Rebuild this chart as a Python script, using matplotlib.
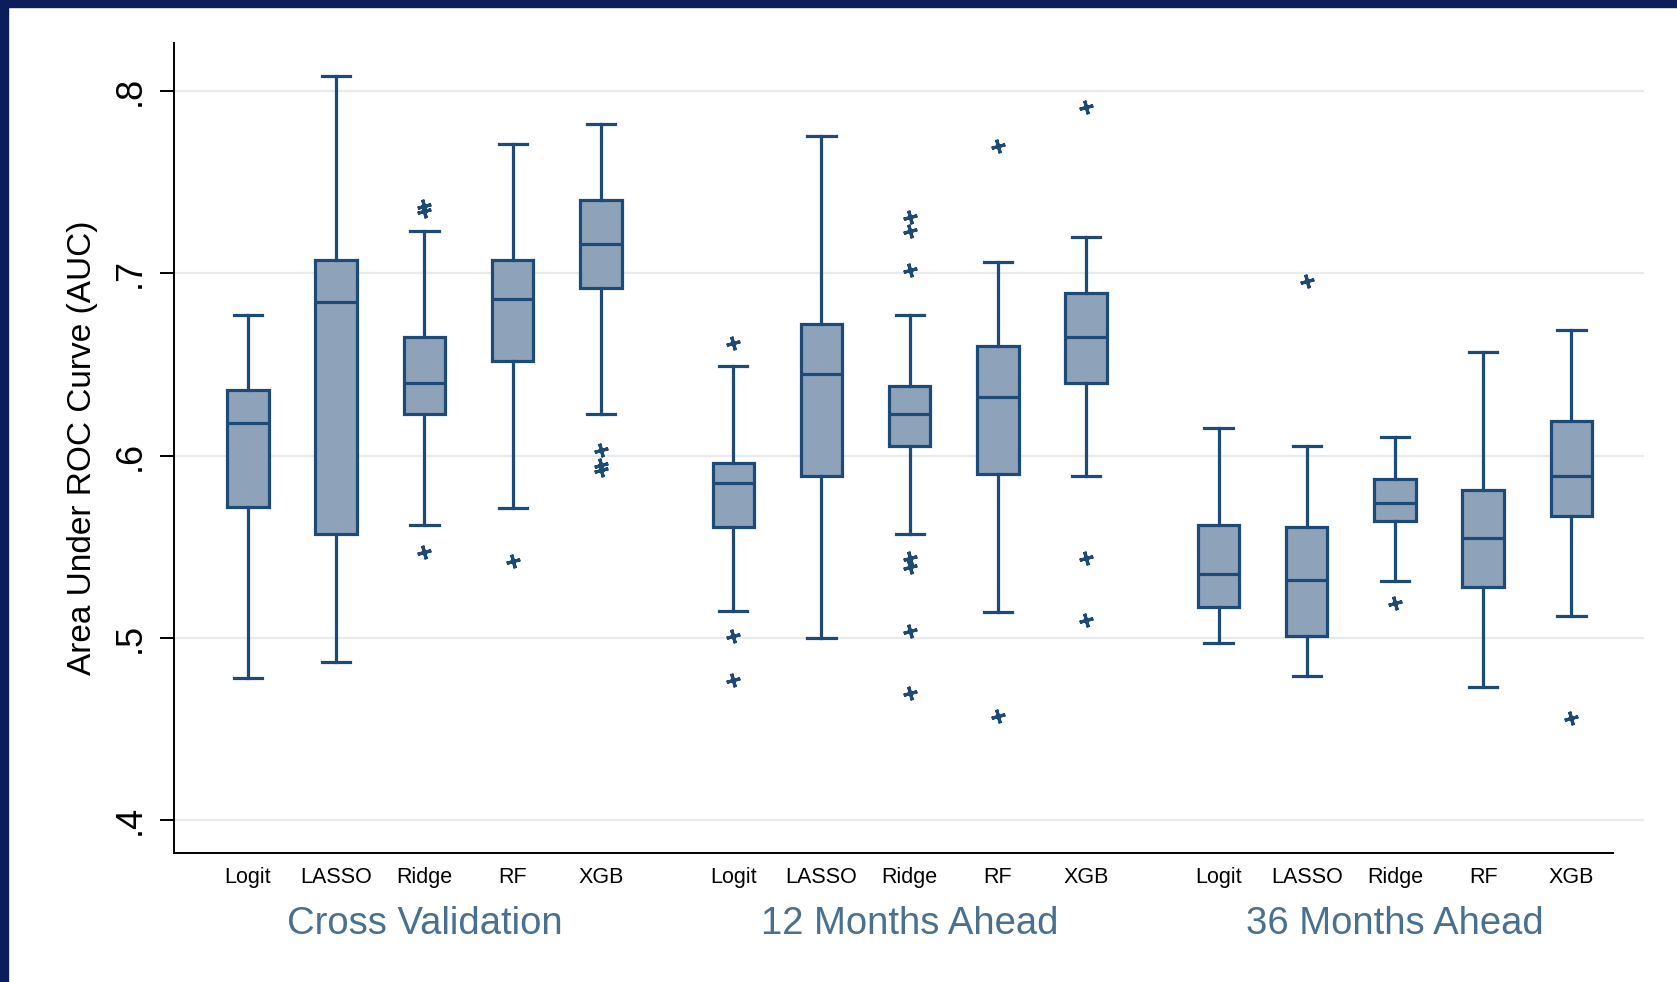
import numpy as np
import matplotlib
matplotlib.use("Agg")
from matplotlib import pyplot as plt
from matplotlib.patches import Rectangle

plt.rcParams['font.family'] = ['Liberation Sans', 'DejaVu Sans']

# AUC box summaries per model, three evaluation windows
models = ["Logit", "LASSO", "Ridge", "RF", "XGB"]
groups = ["Cross Validation", "12 Months Ahead", "36 Months Ahead"]

whislo = [0.478, 0.487, 0.562, 0.571, 0.623,
          0.515, 0.500, 0.557, 0.514, 0.589,
          0.497, 0.479, 0.531, 0.473, 0.512]
q1 = [0.572, 0.557, 0.623, 0.652, 0.692,
      0.561, 0.589, 0.605, 0.590, 0.640,
      0.517, 0.501, 0.564, 0.528, 0.567]
med = [0.618, 0.684, 0.640, 0.686, 0.716,
       0.585, 0.645, 0.623, 0.632, 0.665,
       0.535, 0.532, 0.574, 0.555, 0.589]
q3 = [0.636, 0.707, 0.665, 0.707, 0.740,
      0.596, 0.672, 0.638, 0.660, 0.689,
      0.562, 0.561, 0.587, 0.581, 0.619]
whishi = [0.677, 0.808, 0.723, 0.771, 0.782,
          0.649, 0.775, 0.677, 0.706, 0.720,
          0.615, 0.605, 0.610, 0.657, 0.669]
outliers = [[], [], [0.737, 0.734, 0.547], [0.542], [0.603, 0.595, 0.592],
            [0.662, 0.501, 0.477], [], [0.731, 0.723, 0.702, 0.544, 0.539, 0.504, 0.470],
            [0.770, 0.457], [0.791, 0.544, 0.510],
            [], [0.696], [0.519], [], [0.456]]

yticks = [0.4, 0.5, 0.6, 0.7, 0.8]
yticklabels = [".4", ".5", ".6", ".7", ".8"]

# five boxes per group, half a slot of extra gap between groups
positions = [g * 5.5 + i for g in range(len(groups)) for i in range(len(models))]

edge = "#1d4a76"
fill = "#8ea3ba"

stats = []
for k in range(len(positions)):
    stats.append(dict(med=med[k], q1=q1[k], q3=q3[k],
                      whislo=whislo[k], whishi=whishi[k],
                      fliers=np.array(outliers[k])))

fig = plt.figure(figsize=(16.77, 9.82), dpi=100)
ax = fig.add_axes([0.1039, 0.1309, 0.8763, 0.8256])

for y in yticks:
    ax.axhline(y, color="#e7ebee", lw=1.6, zorder=0)

ax.bxp(stats, positions=positions, widths=0.47, capwidths=0.32,
       patch_artist=True, manage_ticks=False,
       boxprops=dict(facecolor=fill, edgecolor=edge, linewidth=2.3),
       medianprops=dict(color=edge, linewidth=2.3),
       whiskerprops=dict(color=edge, linewidth=2.3),
       capprops=dict(color=edge, linewidth=2.3),
       flierprops=dict(marker=(4, 2, 15), markersize=10, markeredgewidth=2.3,
                       markeredgecolor=edge, markerfacecolor=edge, linestyle="none"))

ax.set_xlim(-0.836, 15.82)
ax.set_ylim(0.3818, 0.8264)

ax.spines["top"].set_visible(False)
ax.spines["right"].set_visible(False)
ax.spines["left"].set_linewidth(1.4)
ax.spines["bottom"].set_linewidth(1.4)
ax.spines["bottom"].set_bounds(-0.836, 15.47)

ax.set_yticks(yticks)
ax.set_yticklabels(yticklabels, fontsize=26)
ax.tick_params(axis="y", length=10, width=1.4, pad=9, labelrotation=90)
for lab in ax.get_yticklabels():
    lab.set_va("center")

ax.set_xticks(positions)
ax.set_xticklabels(models * len(groups), fontsize=15.5)
ax.tick_params(axis="x", length=0, pad=10)

ax.set_ylabel("Area Under ROC Curve (AUC)", fontsize=24, va="center")
ax.yaxis.set_label_coords(-0.0621, 0.5)

for g, name in enumerate(groups):
    ax.text(g * 5.5 + 2, -0.0875, name, transform=ax.get_xaxis_transform(),
            ha="center", va="center", fontsize=27.5, color="#4a7090")

# dark frame along the top and left edges
fig.patches.append(Rectangle((0, 1 - 7 / 982), 1, 7 / 982, transform=fig.transFigure,
                             color="#0b1e5a", zorder=10))
fig.patches.append(Rectangle((0, 0), 8 / 1677, 1, transform=fig.transFigure,
                             color="#0b1e5a", zorder=10))

fig.savefig("out.png", dpi=100)
